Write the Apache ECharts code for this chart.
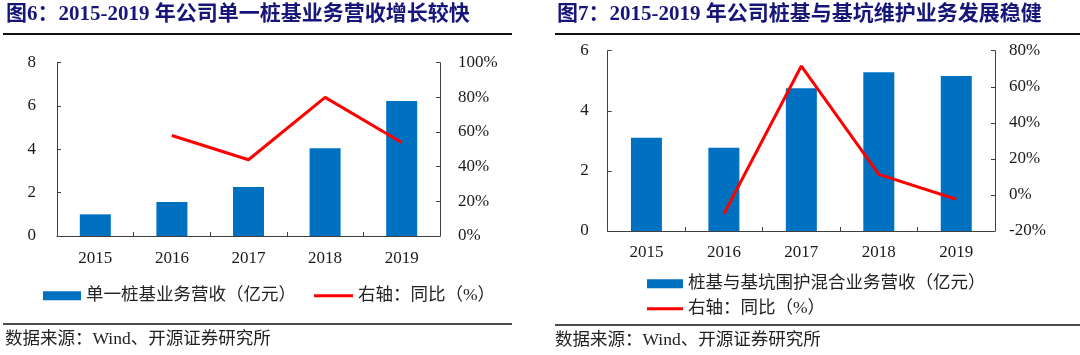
<!DOCTYPE html>
<html>
<head>
<meta charset="utf-8">
<script src="https://cdn.jsdelivr.net/npm/echarts@6/dist/echarts.min.js"></script>
<style>
html,body{margin:0;padding:0;background:#fff;}
#c{width:1080px;height:355px;}
</style>
</head>
<body>
<div id="c"></div>
<script>
// ---- data ----
const years = ['2015', '2016', '2017', '2018', '2019'];
// Chart 1 (图6)
const pileRevenue = [1.0, 1.57, 2.26, 4.05, 6.23];       // 亿元
const pileYoY = [null, 58, 44, 80, 54];                  // %
// Chart 2 (图7)
const mixedRevenue = [3.1, 2.77, 4.75, 5.28, 5.16];       // 亿元
const mixedYoY = [null, -10.6, 71.5, 11.4, -2.4];         // %
const leftTicks1 = { min: 0, max: 8, interval: 2 };
const rightTicks1 = { min: 0, max: 100, interval: 20 };
const leftTicks2 = { min: 0, max: 6, interval: 2 };
const rightTicks2 = { min: -20, max: 80, interval: 20 };
const title1 = '图6：2015-2019 年公司单一桩基业务营收增长较快';
const title2 = '图7：2015-2019 年公司桩基与基坑维护业务发展稳健';
const barName1 = '单一桩基业务营收（亿元）';
const barName2 = '桩基与基坑围护混合业务营收（亿元）';
const lineName = '右轴：同比（%）';
const lineName2 = '右轴：同比（%） ';
const sourceText = '数据来源：Wind、开源证券研究所';

// ---- styles ----
const SERIF = "'Liberation Serif','Noto Sans CJK SC'";
const CJK = "'Liberation Serif','Noto Sans CJK SC'";
const axisColor = '#404040';
const labelColor = '#1a1a1a';
const barColor = '#0070C0';
const lineColor = '#FF0000';
const titleColor = '#16167a';

function yAxis(gridIndex, t, pos, fmt, margin) {
  return {
    type: 'value', gridIndex, position: pos,
    min: t.min, max: t.max, interval: t.interval,
    axisLine: { show: true, lineStyle: { color: axisColor, width: 1 } },
    axisTick: { show: true, inside: true, length: 4, lineStyle: { color: axisColor } },
    splitLine: { show: false },
    axisLabel: { formatter: fmt, margin, color: labelColor, fontFamily: SERIF, fontSize: 17 }
  };
}
function xAxis(gridIndex, margin) {
  return {
    type: 'category', gridIndex, data: years,
    axisLine: { show: true, onZero: false, lineStyle: { color: axisColor, width: 1 } },
    axisTick: { show: true, inside: true, length: 4, lineStyle: { color: axisColor } },
    axisLabel: { margin, color: labelColor, fontFamily: SERIF, fontSize: 17 }
  };
}
const pct = v => v + '%';
const legendText = { fontFamily: CJK, fontSize: 17.5, color: '#222' };

const chart = echarts.init(document.getElementById('c'), null, { renderer: 'canvas' });
chart.setOption({
  animation: false,
  backgroundColor: '#fff',
  grid: [
    { left: 57, right: 640, top: 62.7, bottom: 119 },
    { left: 607.7, right: 85, top: 50.7, bottom: 124 }
  ],
  xAxis: [xAxis(0, 14), xAxis(1, 13)],
  yAxis: [
    yAxis(0, leftTicks1, 'left', null, 21),
    yAxis(0, rightTicks1, 'right', pct, 18),
    yAxis(1, leftTicks2, 'left', null, 19),
    yAxis(1, rightTicks2, 'right', pct, 14)
  ],
  legend: [
    { data: [{ name: barName1, icon: 'rect' }], left: 38, top: 282, itemWidth: 38, itemHeight: 9, itemGap: 5,
      textStyle: legendText },
    { data: [{ name: lineName, icon: 'rect' }], left: 309, top: 282, itemWidth: 39, itemHeight: 3, itemGap: 5,
      textStyle: legendText },
    { data: [{ name: barName2, icon: 'rect' }], left: 642, top: 270, itemWidth: 36, itemHeight: 9, itemGap: 5,
      textStyle: legendText },
    { data: [{ name: lineName2, icon: 'rect' }], left: 642, top: 295, itemWidth: 36, itemHeight: 3, itemGap: 5,
      textStyle: legendText }
  ],
  series: [
    { name: barName1, type: 'bar', xAxisIndex: 0, yAxisIndex: 0, data: pileRevenue, barWidth: 31,
      itemStyle: { color: barColor } },
    { name: lineName, type: 'line', xAxisIndex: 0, yAxisIndex: 1, data: pileYoY, showSymbol: false,
      symbol: 'none', color: lineColor, lineStyle: { color: lineColor, width: 3 } },
    { name: barName2, type: 'bar', xAxisIndex: 1, yAxisIndex: 2, data: mixedRevenue, barWidth: 31,
      itemStyle: { color: barColor } },
    { name: lineName2, type: 'line', xAxisIndex: 1, yAxisIndex: 3, data: mixedYoY, showSymbol: false,
      symbol: 'none', color: lineColor, lineStyle: { color: lineColor, width: 3 } }
  ],
  graphic: [
    { type: 'text', left: 6, top: 4, style: { text: title1, font: "bold 21px " + SERIF, fill: titleColor } },
    { type: 'text', left: 557, top: 4, style: { text: title2, font: "bold 21px " + SERIF, fill: titleColor } },
    { type: 'line', shape: { x1: 3, y1: 34, x2: 512, y2: 34 }, style: { stroke: '#111', lineWidth: 2 } },
    { type: 'line', shape: { x1: 555, y1: 34, x2: 1080, y2: 34 }, style: { stroke: '#111', lineWidth: 2 } },
    { type: 'line', shape: { x1: 3, y1: 324, x2: 512, y2: 324 }, style: { stroke: '#111', lineWidth: 1.5 } },
    { type: 'line', shape: { x1: 555, y1: 325, x2: 1080, y2: 325 }, style: { stroke: '#111', lineWidth: 1.5 } },
    { type: 'text', left: 5, top: 331, style: { text: sourceText, font: "17.5px " + CJK, fill: '#222' } },
    { type: 'text', left: 555, top: 332, style: { text: sourceText, font: "17.5px " + CJK, fill: '#222' } }
  ]
});
</script>
</body>
</html>
